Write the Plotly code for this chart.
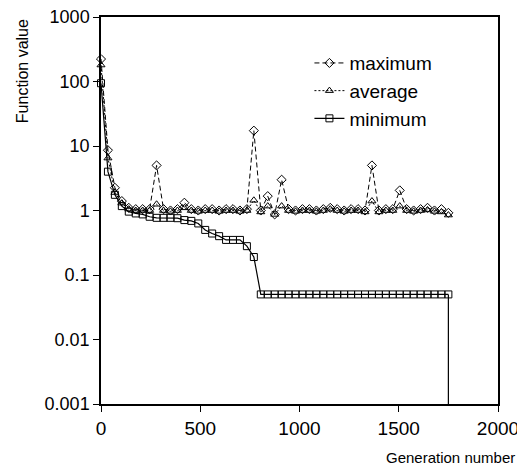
import plotly.graph_objects as go

step = 35
generations = [i * step for i in range(51)]

maximum = [223, 8.6, 2.25, 1.4, 1.1, 1.05, 1.05, 1.05, 5.0, 1.05,
           1.0, 1.05, 1.32, 1.05, 1.0, 1.05, 1.05, 1.0, 1.05, 1.05,
           1.0, 1.05, 17.3, 1.0, 1.67, 0.87, 3.0, 1.05, 1.0, 1.05,
           1.05, 1.0, 1.05, 1.1, 1.05, 1.0, 1.05, 1.05, 1.0, 5.0,
           1.0, 1.05, 1.05, 2.05, 1.05, 1.0, 1.05, 1.1, 1.0, 1.05, 0.92]
average = [180, 6.5, 1.9, 1.3, 1.05, 1.0, 1.0, 1.0, 1.25, 1.0,
           0.97, 1.0, 1.1, 1.0, 0.97, 1.0, 1.0, 0.97, 1.0, 1.0,
           0.97, 1.0, 1.44, 0.95, 1.17, 0.87, 1.17, 1.0, 0.97, 1.0,
           1.0, 0.97, 1.0, 1.05, 1.0, 0.97, 1.0, 1.0, 0.95, 1.4,
           0.95, 1.0, 1.0, 1.17, 1.0, 0.97, 1.0, 1.02, 0.97, 0.95, 0.85]
minimum = [94, 4.0, 1.75, 1.17, 0.96, 0.9, 0.87, 0.8, 0.77, 0.77,
           0.77, 0.76, 0.71, 0.69, 0.63, 0.5, 0.44, 0.4, 0.35, 0.35,
           0.35, 0.28, 0.19] + [0.05] * 28
final_minimum = 1e-6  # optimum reached (value below axis range)

ytick_vals = [1000, 100, 10, 1, 0.1, 0.01, 0.001]
ytick_text = ["1000", "100", "10", "1", "0.1", "0.01", "0.001"]
xtick_vals = [0, 500, 1000, 1500, 2000]

FONT = "Liberation Sans, Arial, sans-serif"

fig = go.Figure()
fig.add_trace(go.Scatter(
    x=generations, y=maximum, name="maximum", mode="lines+markers",
    legendgroup="a",
    line=dict(color="black", width=1, dash="5px,3px"),
    marker=dict(symbol="diamond-open", size=7, color="black", line=dict(width=1)),
    cliponaxis=False))
fig.add_trace(go.Scatter(
    x=generations, y=average, name="average", mode="lines+markers",
    legendgroup="b",
    line=dict(color="black", width=1, dash="2px,2px"),
    marker=dict(symbol="triangle-up-open", size=7, color="black", line=dict(width=1)),
    cliponaxis=False))
fig.add_trace(go.Scatter(
    x=generations, y=minimum, name="minimum", mode="lines+markers",
    legendgroup="c",
    line=dict(color="black", width=1.2),
    marker=dict(symbol="square-open", size=7, color="black", line=dict(width=1)),
    cliponaxis=False))
fig.add_trace(go.Scatter(
    x=[generations[-1], generations[-1]], y=[minimum[-1], final_minimum],
    mode="lines", showlegend=False, legendgroup="c",
    line=dict(color="black", width=1.2)))

# the page body has an 8px default margin, so the figure is sized to fit
fig.update_layout(
    width=517, height=467,
    margin=dict(l=93, r=27, t=9, b=71),
    paper_bgcolor="white", plot_bgcolor="white",
    font=dict(family=FONT, size=16, color="black"),
    showlegend=True,
    legend=dict(x=0.525, y=0.93, xanchor="left", yanchor="top",
                bgcolor="rgba(0,0,0,0)", font=dict(size=19),
                itemwidth=30, tracegroupgap=0),
    xaxis=dict(range=[0, 2000], tickvals=xtick_vals, automargin=False,
               ticklabeloverflow="allow",
               ticks="outside", ticklen=6, tickwidth=1, tickcolor="black",
               showline=True, linecolor="black", linewidth=1.5, mirror=True,
               showgrid=False, zeroline=False,
               tickfont=dict(size=19)),
    yaxis=dict(type="log", range=[-3, 3], tickvals=ytick_vals, ticktext=ytick_text,
               automargin=False, ticklabeloverflow="allow",
               ticks="outside", ticklen=6, tickwidth=1, tickcolor="black",
               showline=True, linecolor="black", linewidth=1.5, mirror=True,
               showgrid=False, zeroline=False,
               tickfont=dict(size=18)),
    annotations=[
        dict(text="Generation number", xref="paper", yref="paper",
             x=1.048, y=-0.139, xanchor="right", yanchor="middle",
             showarrow=False, font=dict(size=15)),
        dict(text="Function value", xref="paper", yref="paper",
             x=-0.199, y=0.86, xanchor="center", yanchor="middle",
             textangle=-90, showarrow=False, font=dict(size=16)),
    ],
)

fig.write_html("out.html")
